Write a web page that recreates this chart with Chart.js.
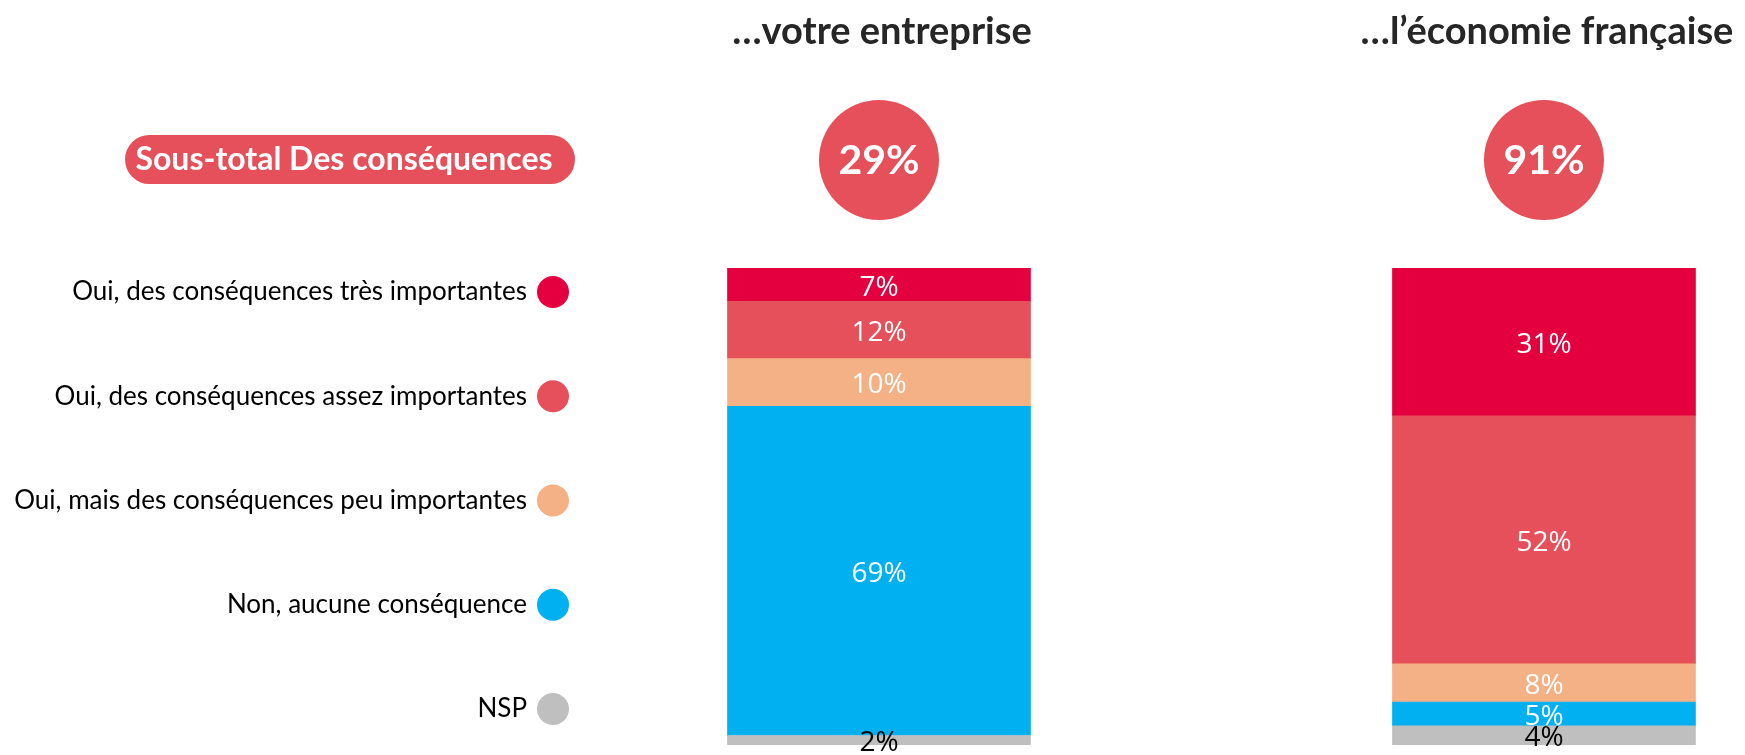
<!DOCTYPE html>
<html>
<head>
<meta charset="utf-8">
<script src="https://cdn.jsdelivr.net/npm/chart.js@4/dist/chart.umd.min.js"></script>
<style>
  html, body { margin: 0; padding: 0; background: #ffffff; }
  canvas { display: block; }
</style>
</head>
<body>
<canvas id="c" width="1745" height="755"></canvas>
<script>
// ---- Data ----
const categories = ['…votre entreprise', '…l’économie française'];
const seriesNames = [
  'Oui, des conséquences très importantes',
  'Oui, des conséquences assez importantes',
  'Oui, mais des conséquences peu importantes',
  'Non, aucune conséquence',
  'NSP'
];
const tresImportantes = [7, 31];
const assezImportantes = [12, 52];
const peuImportantes = [10, 8];
const aucuneConsequence = [69, 5];
const nsp = [2, 4];
const sousTotalLabel = 'Sous-total Des conséquences';
const sousTotal = [29, 91];

// ---- Styles ----
const colors = ['#E4003F', '#E5505A', '#F3B185', '#00B0F0', '#BFBFBF'];
const labelColors = ['#ffffff', '#ffffff', '#ffffff', '#ffffff', '#000000'];
const seriesValues = [tresImportantes, assezImportantes, peuImportantes, aucuneConsequence, nsp];

// datasets bottom -> top (NSP first)
const datasets = [];
for (let s = seriesValues.length - 1; s >= 0; s--) {
  datasets.push({
    label: seriesNames[s],
    data: seriesValues[s].map((v, i) => ({ x: i, y: v })),
    backgroundColor: colors[s],
    borderWidth: 0,
    barThickness: 303,
    labelColor: labelColors[s]
  });
}

const decorPlugin = {
  id: 'decor',
  afterDatasetsDraw(chart) {
    const ctx = chart.ctx;
    const xs = chart.scales.x;
    ctx.save();
    // segment labels
    chart.data.datasets.forEach((ds, di) => {
      const meta = chart.getDatasetMeta(di);
      meta.data.forEach((el, i) => {
        const v = ds.data[i].y;
        const cy = (el.y + el.base) / 2;
        ctx.font = '28px "Open Sans", sans-serif';
        ctx.fillStyle = ds.labelColor;
        ctx.textAlign = 'center';
        ctx.textBaseline = 'middle';
        ctx.fillText(v + '%', el.x, cy + 3);
      });
    });
    // column titles and subtotal circles
    categories.forEach((cat, i) => {
      const cx = xs.getPixelForValue(i);
      ctx.fillStyle = '#262626';
      ctx.font = 'bold 38px Lato, sans-serif';
      ctx.textAlign = 'center';
      ctx.textBaseline = 'alphabetic';
      ctx.fillText(cat, cx + 3, 44);
      ctx.beginPath();
      ctx.arc(cx, 160, 60, 0, Math.PI * 2);
      ctx.fillStyle = '#E5505A';
      ctx.fill();
      ctx.fillStyle = '#ffffff';
      ctx.font = 'bold 41px Lato, sans-serif';
      ctx.textBaseline = 'middle';
      ctx.fillText(sousTotal[i] + '%', cx, 161);
    });
    // pill
    const px = 125, py = 135, pw = 450, ph = 49, r = ph / 2;
    ctx.beginPath();
    ctx.moveTo(px + r, py);
    ctx.lineTo(px + pw - r, py);
    ctx.arc(px + pw - r, py + r, r, -Math.PI / 2, Math.PI / 2);
    ctx.lineTo(px + r, py + ph);
    ctx.arc(px + r, py + r, r, Math.PI / 2, Math.PI * 1.5);
    ctx.closePath();
    ctx.fillStyle = '#E5505A';
    ctx.fill();
    ctx.fillStyle = '#ffffff';
    ctx.font = 'bold 32px Lato, sans-serif';
    ctx.textAlign = 'center';
    ctx.textBaseline = 'middle';
    ctx.fillText(sousTotalLabel, 344, 160);
    // legend
    seriesNames.forEach((name, s) => {
      const y = 292 + s * 104.25;
      ctx.beginPath();
      ctx.arc(553, y, 16, 0, Math.PI * 2);
      ctx.fillStyle = colors[s];
      ctx.fill();
      ctx.fillStyle = '#000000';
      ctx.font = '26px Lato, sans-serif';
      ctx.textAlign = 'right';
      ctx.textBaseline = 'middle';
      ctx.fillText(name, 527, y);
    });
    ctx.restore();
  }
};

new Chart(document.getElementById('c'), {
  type: 'bar',
  data: { datasets },
  options: {
    responsive: false,
    animation: false,
    devicePixelRatio: 1,
    layout: { padding: { top: 268, bottom: 10, left: 560, right: 0 } },
    plugins: { legend: { display: false }, tooltip: { enabled: false } },
    scales: {
      x: { type: 'linear', display: false, offset: false, stacked: true, bounds: 'data', min: -0.4797, max: 1.3023 },
      y: { display: false, stacked: true, min: 0, max: 100 }
    }
  },
  plugins: [decorPlugin]
});
</script>
</body>
</html>
